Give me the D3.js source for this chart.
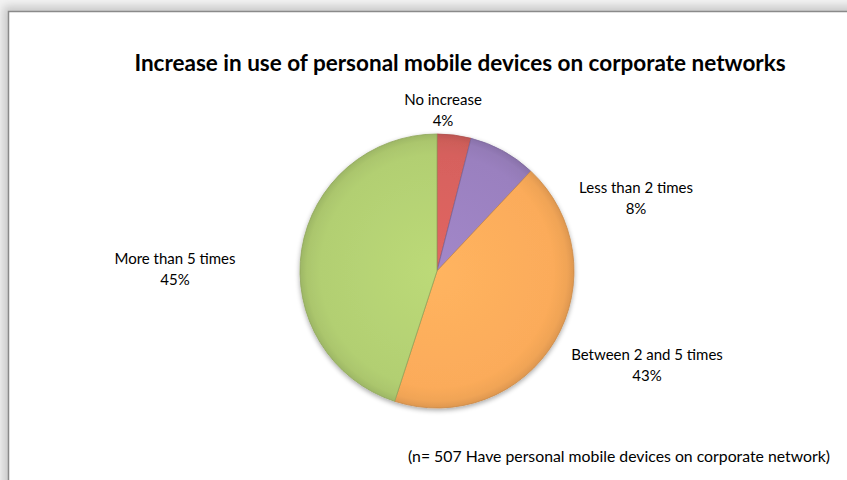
<!DOCTYPE html>
<html>
<head>
<meta charset="utf-8">
<script src="https://cdn.jsdelivr.net/npm/d3@7"></script>
<style>
  html, body { margin: 0; padding: 0; background: #f4f4f4; }
  svg { display: block; }
</style>
</head>
<body>
<svg id="chart" width="847" height="480"></svg>
<script>
// Survey answers, in clockwise order from 12 o'clock
const categories = ["No increase", "Less than 2 times", "Between 2 and 5 times", "More than 5 times"];
const shares = [4, 8, 43, 45];
const sliceColors = ["#d6615d", "#9a80bf", "#fbab5a", "#b2cf72"];
const titleText = "Increase in use of personal mobile devices on corporate networks";
const noteText = "(n= 507 Have personal mobile devices on corporate network)";

const W = 847, H = 480;
const FONT = "Lato, 'Open Sans', sans-serif";
const svg = d3.select("#chart");
const defs = svg.append("defs");

// soft drop shadow behind the chart panel
const panelShadow = defs.append("filter").attr("id", "panelShadow")
  .attr("x", "-5%").attr("y", "-5%").attr("width", "110%").attr("height", "110%");
panelShadow.append("feGaussianBlur").attr("stdDeviation", 5);

// shadow below the pie
const pieShadow = defs.append("filter").attr("id", "pieShadow")
  .attr("x", "-20%").attr("y", "-20%").attr("width", "140%").attr("height", "140%");
pieShadow.append("feGaussianBlur").attr("in", "SourceAlpha").attr("stdDeviation", 2.5).attr("result", "b");
pieShadow.append("feOffset").attr("in", "b").attr("dx", 0).attr("dy", 2).attr("result", "o");
pieShadow.append("feComponentTransfer").attr("in", "o").attr("result", "s")
  .append("feFuncA").attr("type", "linear").attr("slope", 0.35);
const merge = pieShadow.append("feMerge");
merge.append("feMergeNode").attr("in", "s");
merge.append("feMergeNode").attr("in", "SourceGraphic");

// panel
svg.append("rect").attr("x", 3).attr("y", 6).attr("width", W + 20).attr("height", H + 20)
  .attr("fill", "#c8c8c8").attr("filter", "url(#panelShadow)");
svg.append("rect").attr("x", 8.5).attr("y", 11.5).attr("width", W + 20).attr("height", H + 20)
  .attr("fill", "#ffffff").attr("stroke", "#8a8a8a").attr("stroke-width", 1.5);

// title
svg.append("text")
  .attr("x", 460).attr("y", 71)
  .attr("text-anchor", "middle")
  .attr("font-family", FONT)
  .attr("font-weight", "bold")
  .attr("font-size", 22.5)
  .attr("fill", "#000")
  .text(titleText);

// pie
const cx = 437, cy = 271, R = 137;
const data = categories.map((c, i) => ({ name: c, value: shares[i], color: sliceColors[i] }));
const pie = d3.pie().value(d => d.value).sort(null);
const arc = d3.arc().innerRadius(0).outerRadius(R);
const arcs = pie(data);

// bevelled fill per slice
arcs.forEach((a, i) => {
  const base = d3.color(a.data.color);
  const g = defs.append("radialGradient").attr("id", "grad" + i)
    .attr("gradientUnits", "userSpaceOnUse")
    .attr("cx", 0).attr("cy", 0).attr("r", R);
  g.append("stop").attr("offset", "0%").attr("stop-color", base.brighter(0.15));
  g.append("stop").attr("offset", "85%").attr("stop-color", base);
  g.append("stop").attr("offset", "95%").attr("stop-color", base.darker(0.12));
  g.append("stop").attr("offset", "100%").attr("stop-color", base.darker(0.35));
});

const pieG = svg.append("g")
  .attr("transform", `translate(${cx},${cy})`)
  .attr("filter", "url(#pieShadow)");

pieG.selectAll("path.slice")
  .data(arcs)
  .join("path")
  .attr("class", "slice")
  .attr("d", arc)
  .attr("fill", (d, i) => `url(#grad${i})`)
  .attr("stroke", d => d3.color(d.data.color).darker(0.6))
  .attr("stroke-width", 0.8)
  .attr("stroke-linejoin", "round");

// slice labels: name on the first line, share on the second
const labelPos = [
  { x: 443, y: 105 },
  { x: 636, y: 193 },
  { x: 647, y: 360 },
  { x: 175, y: 264 }
];
const labels = svg.append("g")
  .attr("font-family", FONT)
  .attr("font-size", 15)
  .attr("fill", "#000")
  .attr("text-anchor", "middle");
arcs.forEach((a, i) => {
  const t = labels.append("text").attr("x", labelPos[i].x).attr("y", labelPos[i].y);
  t.append("tspan").attr("x", labelPos[i].x).text(a.data.name);
  t.append("tspan").attr("x", labelPos[i].x).attr("dy", 20.5).text(a.data.value + "%");
});

// sample note
svg.append("text")
  .attr("x", 619).attr("y", 462)
  .attr("text-anchor", "middle")
  .attr("font-family", FONT)
  .attr("font-size", 15.8)
  .attr("fill", "#000")
  .text(noteText);
</script>
</body>
</html>
